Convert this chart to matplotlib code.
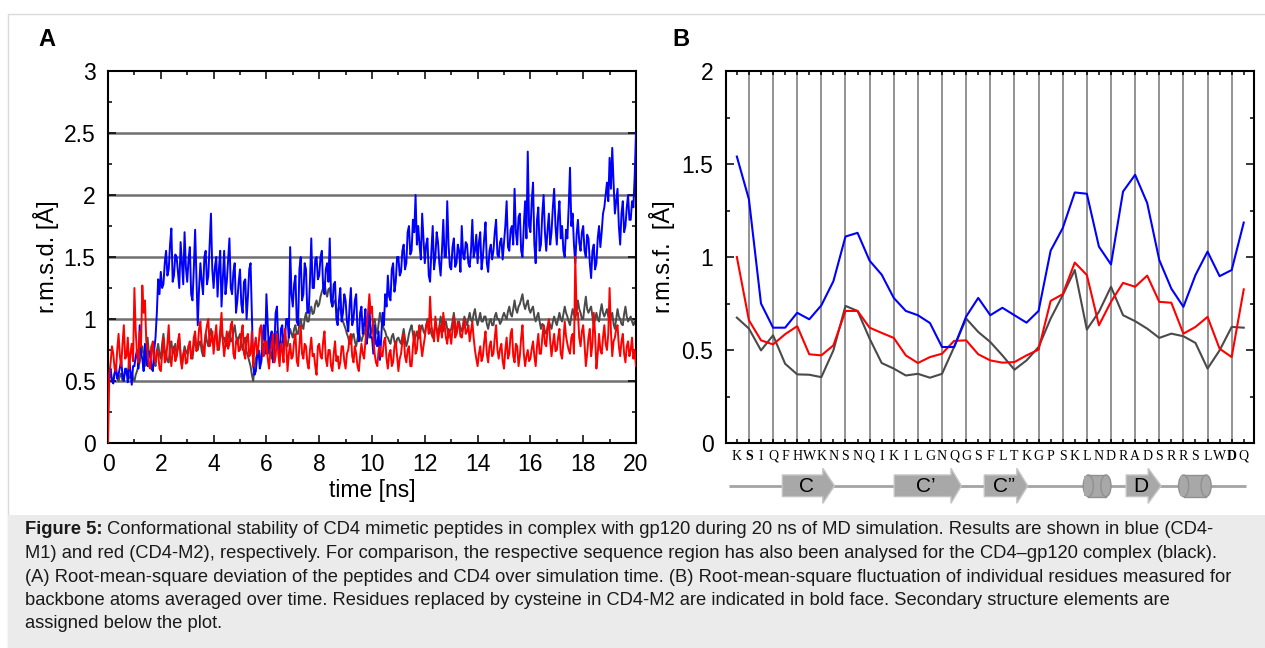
import numpy as np
import matplotlib
matplotlib.use('Agg')
import matplotlib.pyplot as plt
from matplotlib.patches import Polygon, Ellipse, Rectangle
from matplotlib.ticker import MultipleLocator, FuncFormatter
from matplotlib import font_manager

# ---------------- data ----------------
# panel A: r.m.s.d. over time, sampled every 0.05 ns (one row per ns)
time_ns = np.linspace(0, 20, 401)

rmsd_m1 = [  # blue, CD4-M1
    0.52, 0.58, 0.60, 0.50, 0.48, 0.56, 0.63, 0.52, 0.55, 0.61, 0.67, 0.54, 0.50, 0.60, 0.58, 0.49, 0.70, 0.57, 0.47, 0.62,
    0.62, 0.70, 0.75, 0.60, 0.95, 0.72, 0.68, 0.58, 0.80, 0.66, 0.62, 0.74, 0.72, 0.60, 0.58, 0.75, 0.85, 1.05, 1.32, 1.20,
    1.38, 1.25, 1.28, 1.45, 1.55, 1.35, 1.40, 1.60, 1.73, 1.30, 1.35, 1.52, 1.50, 1.38, 1.25, 1.62, 1.45, 1.28, 1.70, 1.42,
    1.30, 1.48, 1.58, 1.20, 1.15, 1.40, 1.72, 1.35, 0.95, 1.25, 1.45, 1.30, 1.20, 1.50, 1.55, 1.28, 1.35, 1.60, 1.85, 1.40,
    1.25, 1.42, 1.50, 1.18, 1.40, 1.55, 1.10, 1.32, 1.55, 1.20, 1.30, 1.48, 1.65, 1.25, 1.20, 1.38, 1.45, 1.05, 1.15, 1.30,
    1.40, 1.12, 1.05, 1.30, 1.32, 1.00, 1.18, 1.40, 1.45, 1.05, 0.62, 0.55, 0.58, 0.70, 0.75, 0.60, 0.65, 0.85, 0.95, 0.72,
    1.20, 0.95, 0.72, 0.85, 0.90, 0.65, 0.78, 1.05, 1.10, 0.80, 0.70, 0.92, 0.95, 0.75, 0.82, 1.00, 1.00, 0.85, 1.58, 1.20,
    1.10, 1.28, 1.35, 0.98, 0.95, 1.40, 1.50, 1.15, 1.20, 1.45, 1.40, 1.05, 1.05, 1.30, 1.65, 1.25, 1.25, 1.48, 1.50, 1.32,
    1.35, 1.50, 1.55, 1.25, 1.20, 1.40, 1.45, 1.30, 1.65, 1.15, 1.10, 1.28, 1.30, 1.00, 0.95, 1.15, 1.25, 0.98, 1.05, 1.20,
    1.15, 0.98, 0.90, 1.10, 1.25, 0.95, 1.00, 1.15, 1.20, 0.90, 0.82, 1.05, 1.10, 0.88, 0.95, 1.08, 0.80, 0.90, 1.12, 0.85,
    0.85, 0.72, 0.95, 0.80, 0.78, 0.90, 0.67, 0.85, 1.05, 0.95, 1.20, 1.10, 1.35, 1.18, 1.15, 1.40, 1.45, 1.22, 1.30, 1.50,
    1.50, 1.35, 1.38, 1.55, 1.60, 1.40, 1.45, 1.70, 1.75, 1.52, 1.55, 1.80, 1.70, 2.00, 1.60, 1.75, 1.60, 1.48, 1.85, 1.65,
    1.45, 1.60, 1.65, 1.35, 1.30, 1.55, 1.75, 1.40, 1.50, 1.70, 1.62, 1.45, 1.35, 1.55, 1.80, 1.50, 1.50, 1.95, 1.60, 1.42,
    1.40, 1.58, 1.65, 1.42, 1.45, 1.60, 1.55, 1.38, 1.75, 1.52, 1.48, 1.62, 1.60, 1.45, 1.42, 1.55, 1.80, 1.50, 1.55, 1.68,
    1.45, 1.62, 1.70, 1.40, 1.50, 1.65, 1.78, 1.45, 1.38, 1.55, 1.60, 1.48, 1.55, 1.70, 1.80, 1.52, 1.50, 1.62, 1.65, 1.48,
    1.62, 1.75, 1.95, 1.58, 1.55, 1.72, 1.75, 1.60, 2.05, 1.70, 1.60, 1.82, 1.85, 1.55, 1.50, 1.75, 1.95, 1.65, 2.35, 1.75,
    1.70, 1.95, 2.10, 1.60, 1.45, 1.80, 1.90, 1.55, 1.60, 1.85, 2.00, 1.70, 1.55, 1.72, 1.85, 1.60, 1.70, 1.90, 2.05, 1.75,
    1.60, 1.82, 1.95, 1.65, 1.75, 1.55, 1.50, 1.72, 1.65, 1.90, 2.22, 1.75, 1.85, 1.60, 1.45, 1.68, 1.80, 1.62, 1.55, 1.70,
    1.75, 1.55, 1.50, 1.68, 1.65, 1.45, 1.33, 1.55, 1.60, 1.40, 1.45, 1.65, 1.75, 1.58, 1.70, 1.85, 1.90, 2.00, 2.10, 1.95,
    2.30, 2.05, 2.38, 2.10, 1.85, 1.95, 2.05, 1.75, 1.60, 1.85, 1.95, 1.70, 1.75, 1.90, 2.00, 1.80, 1.80, 1.95, 1.90, 2.15,
    2.50,
]

rmsd_m2 = [  # red, CD4-M2
    0.00, 0.55, 0.65, 0.78, 0.72, 0.60, 0.58, 0.75, 0.88, 0.70, 0.62, 0.80, 0.95, 0.68, 0.70, 0.85, 0.60, 0.72, 0.80, 0.66,
    1.25, 0.90, 0.72, 0.65, 0.90, 0.78, 1.27, 1.05, 1.15, 0.82, 0.75, 0.62, 0.60, 0.78, 0.82, 0.68, 0.65, 0.75, 0.72, 0.60,
    0.58, 0.72, 0.85, 0.65, 0.68, 0.80, 0.95, 0.70, 0.62, 0.75, 0.78, 0.66, 0.70, 0.82, 0.88, 0.68, 0.60, 0.72, 0.75, 0.64,
    0.65, 0.78, 0.82, 0.68, 0.72, 0.85, 0.90, 0.74, 0.78, 0.92, 0.98, 0.80, 0.75, 0.70, 0.88, 0.95, 1.00, 0.78, 0.82, 0.90,
    0.72, 0.85, 0.95, 0.75, 0.78, 0.92, 1.05, 0.82, 0.70, 0.80, 0.90, 0.76, 0.80, 0.95, 0.98, 0.72, 0.68, 0.82, 0.85, 0.74,
    0.75, 0.88, 0.95, 0.72, 0.68, 0.85, 0.88, 0.70, 0.72, 0.90, 0.62, 0.78, 0.85, 0.72, 0.78, 0.92, 0.95, 0.75, 0.70, 0.82,
    0.82, 0.68, 0.60, 0.75, 0.78, 0.88, 0.65, 0.70, 0.88, 0.72, 0.62, 0.80, 0.75, 0.65, 0.92, 0.80, 0.58, 0.72, 0.80, 0.68,
    0.70, 0.82, 0.88, 0.66, 0.62, 0.78, 0.95, 0.72, 0.68, 0.80, 0.78, 0.65, 0.60, 0.75, 0.85, 0.70, 0.72, 0.62, 0.55, 0.78,
    0.80, 0.70, 0.68, 0.82, 0.90, 0.68, 0.62, 0.75, 0.75, 0.62, 0.58, 0.72, 0.82, 0.66, 0.70, 0.60, 0.65, 0.78, 0.78, 0.66,
    0.60, 0.72, 0.75, 0.85, 0.88, 0.70, 0.65, 0.78, 0.72, 0.62, 0.58, 0.70, 0.80, 0.72, 0.68, 0.82, 0.95, 1.05, 1.20, 1.05,
    1.10, 0.85, 0.72, 0.65, 0.62, 0.75, 0.78, 0.70, 0.70, 0.82, 0.85, 0.68, 0.60, 0.72, 0.75, 0.62, 0.65, 0.78, 0.82, 0.70,
    0.58, 0.68, 0.72, 0.82, 0.88, 0.70, 0.65, 0.75, 0.78, 0.62, 0.62, 0.78, 0.90, 0.72, 0.75, 0.88, 0.95, 0.80, 0.70, 0.78,
    0.85, 0.95, 0.98, 0.88, 1.18, 0.95, 0.88, 0.82, 1.02, 0.92, 0.82, 0.90, 0.95, 0.85, 1.05, 0.95, 0.85, 0.80, 0.92, 0.88,
    0.80, 0.92, 1.02, 0.85, 0.88, 0.98, 0.95, 0.86, 0.85, 0.92, 1.00, 0.88, 0.90, 0.95, 0.82, 0.90, 0.98, 0.85, 0.75, 0.68,
    0.62, 0.72, 0.78, 0.66, 0.70, 0.82, 0.90, 0.72, 0.65, 0.78, 0.82, 0.70, 0.72, 0.85, 0.95, 0.75, 0.68, 0.76, 0.80, 0.66,
    0.60, 0.75, 0.85, 0.68, 0.72, 0.88, 0.92, 0.70, 0.65, 0.80, 0.78, 0.62, 0.70, 0.85, 0.95, 0.72, 0.62, 0.70, 0.75, 0.66,
    0.68, 0.76, 0.82, 0.70, 0.62, 0.78, 0.88, 0.72, 0.72, 0.85, 0.95, 0.80, 0.78, 0.92, 1.00, 0.82, 0.70, 0.80, 0.88, 0.74,
    0.75, 0.85, 0.92, 0.72, 0.68, 0.82, 0.98, 0.86, 0.80, 0.75, 0.72, 0.85, 0.88, 0.72, 1.50, 1.05, 1.05, 0.85, 0.78, 0.90,
    0.95, 0.80, 0.62, 0.72, 0.85, 0.92, 0.70, 0.80, 1.05, 0.88, 0.60, 0.72, 0.88, 0.75, 0.72, 0.85, 0.95, 0.80, 0.75, 0.88,
    1.25, 0.90, 0.70, 0.82, 0.85, 0.92, 0.95, 0.78, 0.70, 0.82, 0.88, 0.72, 0.65, 0.78, 0.82, 0.70, 0.75, 0.85, 0.68, 0.75,
    0.62,
]

rmsd_cd4 = [  # black, CD4-gp120 complex
    0.50, 0.53, 0.55, 0.50, 0.52, 0.56, 0.58, 0.52, 0.50, 0.54, 0.56, 0.50, 0.53, 0.58, 0.60, 0.54, 0.52, 0.55, 0.57, 0.52,
    0.50, 0.55, 0.58, 0.62, 0.65, 0.72, 0.78, 0.70, 0.62, 0.75, 0.85, 0.72, 0.70, 0.78, 0.75, 0.66, 0.62, 0.74, 0.80, 0.72,
    0.68, 0.80, 0.88, 0.75, 0.72, 0.66, 0.65, 0.78, 0.82, 0.72, 0.75, 0.80, 0.70, 0.76, 0.85, 0.72, 0.62, 0.70, 0.78, 0.74,
    0.72, 0.78, 0.80, 0.70, 0.68, 0.78, 0.85, 0.76, 0.75, 0.80, 0.82, 0.74, 0.70, 0.80, 0.88, 0.82, 0.78, 0.86, 0.92, 0.84,
    0.80, 0.86, 0.88, 0.78, 0.75, 0.85, 0.92, 0.84, 0.85, 0.80, 0.78, 0.86, 0.90, 0.82, 0.82, 0.90, 0.95, 0.86, 0.80, 0.85,
    0.88, 0.80, 0.75, 0.82, 0.85, 0.74, 0.70, 0.66, 0.62, 0.55, 0.50, 0.62, 0.68, 0.72, 0.75, 0.70, 0.65, 0.74, 0.80, 0.76,
    0.72, 0.80, 0.85, 0.74, 0.68, 0.76, 0.78, 0.84, 0.90, 0.80, 0.75, 0.80, 0.82, 0.86, 0.88, 0.80, 0.78, 0.86, 0.92, 0.88,
    0.85, 0.92, 0.95, 0.88, 0.88, 0.96, 1.00, 0.94, 0.92, 1.00, 1.05, 0.98, 0.98, 1.06, 1.10, 1.04, 1.05, 1.12, 1.15, 1.10,
    1.12, 1.18, 1.22, 1.25, 1.30, 1.22, 1.18, 1.24, 1.25, 1.15, 1.10, 1.14, 1.15, 1.08, 1.05, 1.10, 1.08, 1.02, 0.98, 0.95,
    0.92, 0.88, 0.85, 0.80, 0.80, 0.86, 0.88, 0.82, 0.78, 0.84, 0.90, 0.85, 0.82, 0.86, 0.88, 0.92, 0.95, 0.90, 0.85, 0.88,
    0.92, 0.98, 1.00, 0.92, 0.88, 0.96, 1.05, 0.98, 0.95, 0.92, 0.90, 0.86, 0.85, 0.82, 0.80, 0.86, 0.88, 0.82, 0.78, 0.84,
    0.85, 0.82, 0.80, 0.86, 0.92, 0.84, 0.78, 0.82, 0.88, 0.92, 0.95, 0.88, 0.82, 0.86, 0.90, 0.84, 0.85, 0.92, 0.95, 0.90,
    0.88, 0.94, 1.00, 0.95, 0.92, 0.88, 0.85, 0.90, 0.95, 0.92, 0.88, 0.94, 1.02, 0.96, 0.90, 0.95, 0.98, 0.92, 0.85, 0.90,
    0.92, 0.98, 1.05, 0.96, 0.88, 0.94, 0.98, 0.92, 0.90, 0.96, 1.02, 0.98, 0.95, 1.00, 1.05, 0.99, 0.98, 1.04, 1.08, 1.00,
    0.95, 1.00, 1.05, 0.98, 0.98, 1.02, 1.02, 0.96, 0.92, 0.98, 1.00, 0.95, 0.95, 1.02, 1.05, 1.00, 1.00, 0.96, 0.98, 1.02,
    1.05, 1.02, 1.00, 1.06, 1.10, 1.04, 1.02, 1.08, 1.15, 1.08, 1.05, 1.10, 1.12, 1.16, 1.20, 1.12, 1.08, 1.12, 1.15, 1.08,
    1.05, 1.08, 1.10, 1.02, 0.98, 1.02, 1.05, 0.98, 0.92, 0.96, 0.95, 0.90, 0.88, 0.94, 0.98, 0.95, 0.92, 0.98, 1.02, 0.98,
    0.95, 1.00, 1.05, 1.00, 0.98, 1.04, 1.10, 1.05, 1.02, 0.98, 0.95, 1.02, 1.08, 1.04, 1.00, 1.06, 1.15, 1.08, 1.05, 1.00,
    1.00, 1.10, 1.18, 1.08, 1.05, 1.08, 1.10, 1.02, 0.95, 1.00, 1.05, 1.00, 0.98, 1.06, 1.12, 1.05, 1.02, 1.05, 1.08, 1.02,
    0.98, 1.02, 1.05, 0.96, 0.92, 1.00, 1.08, 1.02, 1.00, 0.96, 0.95, 1.04, 1.10, 1.02, 0.98, 1.00, 1.02, 0.98, 0.95, 0.98,
    0.95,
]

# panel B: r.m.s.f. per residue
residues = ['K', 'S', 'I', 'Q', 'F', 'H', 'W', 'K', 'N', 'S', 'N', 'Q', 'I', 'K',
            'I', 'L', 'G', 'N', 'Q', 'G', 'S', 'F', 'L', 'T', 'K', 'G', 'P', 'S',
            'K', 'L', 'N', 'D', 'R', 'A', 'D', 'S', 'R', 'R', 'S', 'L', 'W', 'D', 'Q']
bold_residues = [2, 42]  # replaced by cysteine in CD4-M2 (1-based)

rmsf_m1 = [1.54, 1.31, 0.75, 0.62, 0.62, 0.70, 0.665, 0.74, 0.87, 1.11, 1.13,
           0.98, 0.905, 0.78, 0.71, 0.687, 0.645, 0.516, 0.516, 0.68, 0.78,
           0.687, 0.727, 0.687, 0.647, 0.71, 1.034, 1.155, 1.347, 1.34, 1.056,
           0.96, 1.352, 1.442, 1.29, 0.984, 0.83, 0.732, 0.903, 1.029, 0.897,
           0.93, 1.185]
rmsf_m2 = [1.00, 0.66, 0.552, 0.53, 0.585, 0.628, 0.477, 0.471, 0.525, 0.71,
           0.71, 0.62, 0.592, 0.565, 0.471, 0.43, 0.462, 0.48, 0.549, 0.552,
           0.477, 0.444, 0.432, 0.435, 0.471, 0.502, 0.764, 0.80, 0.97, 0.903,
           0.633, 0.759, 0.861, 0.84, 0.90, 0.759, 0.754, 0.588, 0.624, 0.678,
           0.507, 0.462, 0.826]
rmsf_cd4 = [0.674, 0.615, 0.498, 0.579, 0.426, 0.369, 0.367, 0.354, 0.498,
            0.737, 0.71, 0.561, 0.43, 0.40, 0.363, 0.372, 0.351, 0.372, 0.516,
            0.669, 0.597, 0.543, 0.471, 0.394, 0.444, 0.516, 0.669, 0.795,
            0.93, 0.61, 0.705, 0.84, 0.687, 0.655, 0.615, 0.565, 0.588, 0.574,
            0.538, 0.40, 0.498, 0.624, 0.62]

# secondary structure (residue coordinates)
strands = [(4.77, 8.12, 9.09, 'C'), (14.04, 18.74, 19.6, 'C\u2019'),
           (21.5, 24.2, 25.1, 'C\u201d'), (33.26, 35.08, 36.15, 'D')]
helices = [(29.7, 32.0), (37.6, 40.3)]

caption_lines = [
    ' Conformational stability of CD4 mimetic peptides in complex with gp120 during 20 ns of MD simulation. Results are shown in blue (CD4-',
    'M1) and red (CD4-M2), respectively. For comparison, the respective sequence region has also been analysed for the CD4\u2013gp120 complex (black).',
    '(A) Root-mean-square deviation of the peptides and CD4 over simulation time. (B) Root-mean-square fluctuation of individual residues measured for',
    'backbone atoms averaged over time. Residues replaced by cysteine in CD4-M2 are indicated in bold face. Secondary structure elements are',
    'assigned below the plot.',
]

# ---------------- layout ----------------
W, H, DPI = 1265, 648, 100
names = {f.name for f in font_manager.fontManager.ttflist}
tick_font = 'Liberation Sans Narrow' if 'Liberation Sans Narrow' in names else 'Liberation Sans'
plt.rcParams['font.family'] = ['Liberation Sans', 'DejaVu Sans']


def px_rect(left, top, right, bottom):
    return [left / W, 1 - bottom / H, (right - left) / W, (bottom - top) / H]


fig = plt.figure(figsize=(W / DPI, H / DPI), dpi=DPI)
fig.patches.append(Rectangle((8 / W, -0.01), 1.0, 1 - 14 / H + 0.01, transform=fig.transFigure,
                             facecolor='white', edgecolor='#dadada', lw=1.0, zorder=-5))
fig.patches.append(Rectangle((8 / W, -0.01), 1.0, (648 - 515) / H + 0.01, transform=fig.transFigure,
                             facecolor='#ebebeb', edgecolor='none', zorder=-4))

fmt = FuncFormatter(lambda v, _: f'{v:g}')


def style_axes(ax):
    ax.patch.set_alpha(0)
    for sp in ax.spines.values():
        sp.set_linewidth(1.5)
    ax.tick_params(which='both', direction='in', top=True, right=True, width=1.1)
    ax.tick_params(which='major', length=6)
    ax.tick_params(which='minor', length=3)
    for lab in ax.get_xticklabels() + ax.get_yticklabels():
        lab.set_fontfamily(tick_font)


# panel A
axA = fig.add_axes(px_rect(108, 71, 636, 443))
for yv in [0.5, 1, 1.5, 2, 2.5]:
    axA.axhline(yv, color='#707070', lw=1.8, zorder=1)
axA.plot(time_ns, rmsd_cd4, color='#4a4a4a', lw=1.4, zorder=2)
axA.plot(time_ns, rmsd_m1, color='#0000ff', lw=1.4, zorder=3)
axA.plot(time_ns, rmsd_m2, color='#ff0000', lw=1.4, zorder=4)
axA.set_xlim(0, 20)
axA.set_ylim(0, 3)
axA.xaxis.set_major_locator(MultipleLocator(2))
axA.xaxis.set_minor_locator(MultipleLocator(1))
axA.yaxis.set_major_locator(MultipleLocator(0.5))
axA.yaxis.set_minor_locator(MultipleLocator(0.25))
axA.xaxis.set_major_formatter(fmt)
axA.yaxis.set_major_formatter(fmt)
axA.tick_params(axis='x', labelsize=16.5, pad=7)
axA.tick_params(axis='y', labelsize=16.5, pad=9)
style_axes(axA)
axA.set_xlabel('time [ns]', fontsize=16.5, family=tick_font, labelpad=2)
axA.set_ylabel('r.m.s.d. [\u00c5]', fontsize=17, family=tick_font, labelpad=3)

# panel B
axB = fig.add_axes(px_rect(726, 71, 1254, 443))
pos = np.arange(1, len(residues) + 1)
for xv in pos[1::2]:
    axB.axvline(xv, color='#8a8a8a', lw=1.3, zorder=1)
axB.plot(pos, rmsf_cd4, color='#4a4a4a', lw=1.5, zorder=2)
axB.plot(pos, rmsf_m2, color='#ff0000', lw=1.5, zorder=3)
axB.plot(pos, rmsf_m1, color='#0000ff', lw=1.5, zorder=4)
axB.set_xlim(0.1, 43.85)
axB.set_ylim(0, 2)
axB.yaxis.set_major_locator(MultipleLocator(0.5))
axB.yaxis.set_minor_locator(MultipleLocator(0.25))
axB.yaxis.set_major_formatter(fmt)
axB.set_xticks(pos)
axB.set_xticklabels(residues)
axB.tick_params(axis='y', labelsize=16.5, pad=9)
style_axes(axB)
axB.tick_params(axis='x', which='major', length=3, labelsize=10, pad=5)
for i, lab in enumerate(axB.get_xticklabels(), start=1):
    lab.set_fontfamily('Liberation Serif')
    if i in bold_residues:
        lab.set_fontweight('bold')
axB.set_ylabel('r.m.s.f.  [\u00c5]', fontsize=17, family=tick_font, labelpad=5)

# secondary structure strip (y in pixel units)
axS = fig.add_axes(px_rect(726, 462, 1254, 510))
axS.set_xlim(axB.get_xlim())
axS.set_ylim(510, 462)
axS.axis('off')
yc = 485.8
axS.plot([0.34, 43.2], [yc, yc], color='#a3a3a3', lw=2, zorder=1, solid_capstyle='butt')
for x0, xb, xt, name in strands:
    pts = [(x0, yc - 10.8), (xb, yc - 10.8), (xb, yc - 17.5), (xt, yc),
           (xb, yc + 17.5), (xb, yc + 10.8), (x0, yc + 10.8)]
    axS.add_patch(Polygon(pts, closed=True, facecolor='#a8a8a8', edgecolor='#c4c4c4', lw=1, zorder=2))
    axS.text((x0 + xb) / 2 + 0.3, yc + 1, name, fontsize=15, ha='center', va='center', zorder=3)
for x0, x1 in helices:
    e = 0.42
    axS.add_patch(Rectangle((x0 + e, yc - 10.8), x1 - x0 - 2 * e, 21.6, facecolor='#a8a8a8',
                            edgecolor='none', zorder=2))
    axS.add_patch(Ellipse((x0 + e, yc), 2 * e, 21.6, facecolor='#a8a8a8', edgecolor='#909090', lw=1, zorder=2))
    axS.plot([x0 + e, x1 - e], [yc - 10.8, yc - 10.8], color='#909090', lw=1, zorder=3)
    axS.plot([x0 + e, x1 - e], [yc + 10.8, yc + 10.8], color='#909090', lw=1, zorder=3)
    axS.add_patch(Rectangle((x0 + e * 0.2, yc - 10.3), e, 20.6, facecolor='#a8a8a8', edgecolor='none', zorder=3))
    axS.add_patch(Ellipse((x1 - e, yc), 2 * e, 21.6, facecolor='#a8a8a8', edgecolor='#909090', lw=1, zorder=4))

# panel letters
fig.text(47 / W, 1 - 39 / H, 'A', fontsize=17, weight='bold', ha='center', va='center')
fig.text(681 / W, 1 - 39 / H, 'B', fontsize=17, weight='bold', ha='center', va='center')

# caption
renderer = fig.canvas.get_renderer()
cap_size = 13.2
line_y = [530, 553.5, 577, 600.5, 624]
head = fig.text(25 / W, 1 - line_y[0] / H, 'Figure 5:', fontsize=cap_size, weight='bold',
                va='center', color='#1a1a1a')
bb = head.get_window_extent(renderer)
fig.text(bb.x1 / W, 1 - line_y[0] / H, caption_lines[0], fontsize=cap_size, va='center', color='#1a1a1a')
for yy, line in zip(line_y[1:], caption_lines[1:]):
    fig.text(25 / W, 1 - yy / H, line, fontsize=cap_size, va='center', color='#1a1a1a')

fig.savefig('out.png', dpi=DPI)
